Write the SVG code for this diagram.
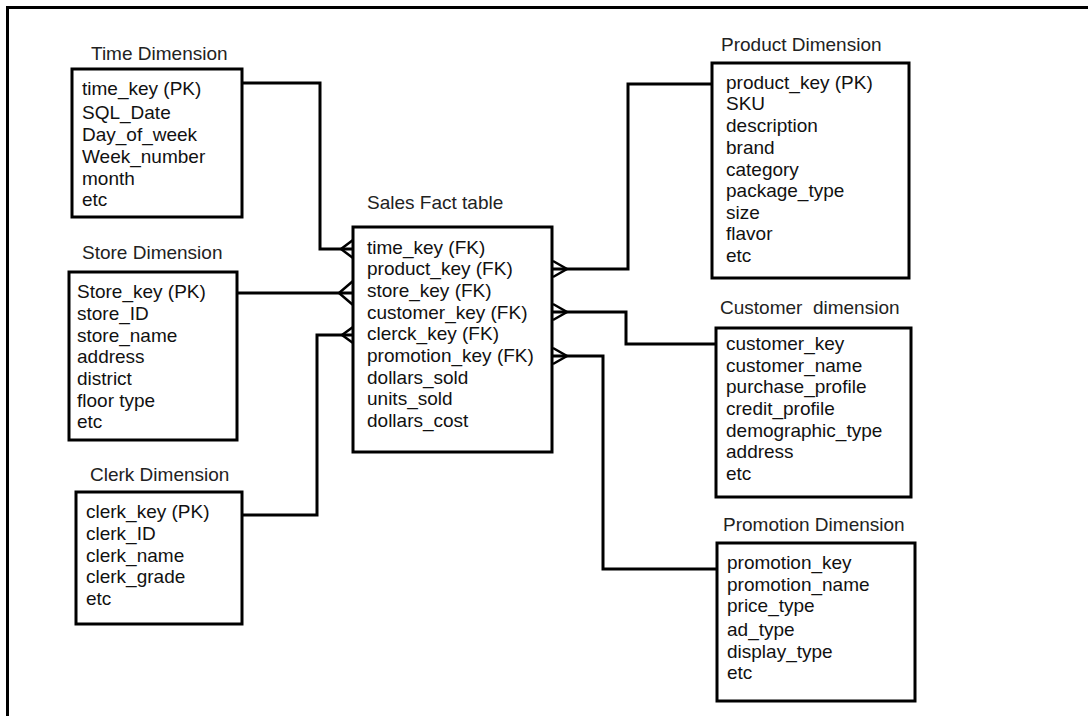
<svg xmlns="http://www.w3.org/2000/svg" width="1088" height="716" viewBox="0 0 1088 716">
<style>
.bg{fill:#ffffff}
.frame{stroke:#000;stroke-width:3;fill:none}
.box{fill:#fff;stroke:#000;stroke-width:3}
.conn{fill:none;stroke:#000;stroke-width:3;stroke-linejoin:miter}
.foot{fill:none;stroke:#000;stroke-width:2.5}
text{font-family:"Liberation Sans",Arial,sans-serif;font-size:19px;fill:#111}
.title{fill:#222}
</style>
<rect class="bg" x="0" y="0" width="1088" height="716"/>
<path class="frame" d="M7.5,716 V7.5 H1088"/>
<g id="connectors">
<path class="conn" d="M242,83 H320 V249 H353"/>
<path class="conn" d="M237,293 H353"/>
<path class="conn" d="M242,515 H317 V335 H353"/>
<path class="conn" d="M712,84 H628 V269 H553"/>
<path class="conn" d="M553,312 H626 V344 H716"/>
<path class="conn" d="M553,356 H603 V569 H717"/>
<path class="foot" d="M353,240 L341,249 L353,258"/>
<path class="foot" d="M353,281 L339,293 L353,305"/>
<path class="foot" d="M353,327 L342,335 L353,343"/>
<path class="foot" d="M553,261 L567,269 L553,277"/>
<path class="foot" d="M553,304 L567,312 L553,320"/>
<path class="foot" d="M553,348 L567,356 L553,364"/>
</g>
<g id="time">
<text class="title" x="91" y="60">Time Dimension</text>
<rect class="box" x="72" y="69" width="170" height="148"/>
<text x="82" y="95">time_key (PK)</text>
<text x="82" y="119">SQL_Date</text>
<text x="82" y="141">Day_of_week</text>
<text x="82" y="163">Week_number</text>
<text x="82" y="185">month</text>
<text x="82" y="206">etc</text>
</g>
<g id="store">
<text class="title" x="82" y="259">Store Dimension</text>
<rect class="box" x="69" y="272" width="168" height="168"/>
<text x="77" y="298">Store_key (PK)</text>
<text x="77" y="320">store_ID</text>
<text x="77" y="342">store_name</text>
<text x="77" y="363">address</text>
<text x="77" y="385">district</text>
<text x="77" y="407">floor type</text>
<text x="77" y="428">etc</text>
</g>
<g id="clerk">
<text class="title" x="90" y="481">Clerk Dimension</text>
<rect class="box" x="76" y="492" width="166" height="132"/>
<text x="86" y="518">clerk_key (PK)</text>
<text x="86" y="540">clerk_ID</text>
<text x="86" y="562">clerk_name</text>
<text x="86" y="583">clerk_grade</text>
<text x="86" y="605">etc</text>
</g>
<g id="fact">
<text class="title" x="367" y="209">Sales Fact table</text>
<rect class="box" x="353" y="227" width="199" height="225"/>
<text x="367" y="254">time_key (FK)</text>
<text x="367" y="275">product_key (FK)</text>
<text x="367" y="297">store_key (FK)</text>
<text x="367" y="319">customer_key (FK)</text>
<text x="367" y="340">clerck_key (FK)</text>
<text x="367" y="362">promotion_key (FK)</text>
<text x="367" y="384">dollars_sold</text>
<text x="367" y="405">units_sold</text>
<text x="367" y="427">dollars_cost</text>
</g>
<g id="product">
<text class="title" x="721" y="51">Product Dimension</text>
<rect class="box" x="712" y="63" width="197" height="215"/>
<text x="726" y="89">product_key (PK)</text>
<text x="726" y="110">SKU</text>
<text x="726" y="132">description</text>
<text x="726" y="154">brand</text>
<text x="726" y="176">category</text>
<text x="726" y="197">package_type</text>
<text x="726" y="219">size</text>
<text x="726" y="240">flavor</text>
<text x="726" y="262">etc</text>
</g>
<g id="customer">
<text class="title" x="720" y="314" xml:space="preserve">Customer  dimension</text>
<rect class="box" x="716" y="328" width="195" height="169"/>
<text x="726" y="350">customer_key</text>
<text x="726" y="372">customer_name</text>
<text x="726" y="393">purchase_profile</text>
<text x="726" y="415">credit_profile</text>
<text x="726" y="437">demographic_type</text>
<text x="726" y="458">address</text>
<text x="726" y="480">etc</text>
</g>
<g id="promotion">
<text class="title" x="723" y="531">Promotion Dimension</text>
<rect class="box" x="717" y="543" width="198" height="158"/>
<text x="727" y="569">promotion_key</text>
<text x="727" y="591">promotion_name</text>
<text x="727" y="612">price_type</text>
<text x="727" y="636">ad_type</text>
<text x="727" y="658">display_type</text>
<text x="727" y="679">etc</text>
</g>
</svg>
